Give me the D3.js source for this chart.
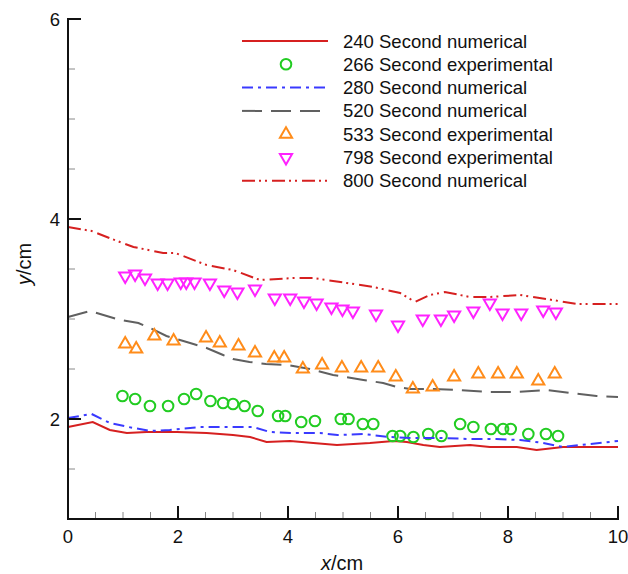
<!DOCTYPE html>
<html><head><meta charset="utf-8">
<script src="https://cdn.jsdelivr.net/npm/d3@7"></script>
<style>body{margin:0;background:#fff}svg{display:block;font-family:"Liberation Sans",Arial,sans-serif}</style>
</head><body><svg id="c" width="628" height="574"></svg>
<script>
// ---- data ----
const s240 = [[0,1.92],[0.45,1.97],[0.76,1.89],[1.07,1.86],[1.43,1.87],[1.98,1.87],[2.52,1.86],[3.0,1.84],[3.31,1.82],[3.61,1.77],[4.04,1.78],[4.46,1.76],[4.89,1.74],[5.49,1.76],[5.92,1.78],[6.16,1.77],[6.46,1.74],[6.76,1.72],[7.31,1.74],[7.67,1.72],[8.16,1.72],[8.52,1.69],[9.0,1.72],[10,1.72]];
const s266 = [[0.99,2.23],[1.22,2.20],[1.49,2.13],[1.82,2.13],[2.11,2.20],[2.33,2.25],[2.59,2.18],[2.82,2.16],[3.0,2.15],[3.21,2.13],[3.45,2.08],[3.82,2.03],[3.95,2.03],[4.24,1.97],[4.49,1.98],[4.96,2.0],[5.1,2.0],[5.36,1.95],[5.55,1.95],[5.90,1.83],[6.04,1.83],[6.28,1.82],[6.55,1.85],[6.79,1.83],[7.13,1.95],[7.37,1.92],[7.69,1.90],[7.91,1.90],[8.05,1.90],[8.37,1.85],[8.69,1.85],[8.91,1.83]];
const s280 = [[0,2.01],[0.43,2.05],[0.76,1.96],[1.1,1.92],[1.49,1.88],[1.85,1.89],[2.4,1.92],[2.88,1.92],[3.37,1.92],[3.67,1.87],[4.1,1.86],[4.58,1.86],[4.9,1.84],[5.37,1.85],[5.85,1.82],[6.28,1.81],[6.76,1.81],[7.31,1.80],[7.79,1.80],[8.22,1.79],[8.64,1.76],[9.0,1.72],[9.49,1.75],[10,1.78]];
const s520 = [[0,3.02],[0.4,3.08],[0.95,2.99],[1.28,2.96],[1.49,2.91],[1.79,2.83],[2.22,2.76],[2.52,2.71],[2.82,2.64],[3.0,2.60],[3.3,2.57],[3.6,2.55],[4.0,2.54],[4.4,2.50],[4.82,2.44],[5.37,2.39],[5.73,2.36],[5.98,2.32],[6.22,2.30],[6.64,2.30],[7.07,2.29],[7.67,2.27],[8.16,2.27],[8.70,2.29],[9.13,2.26],[9.61,2.23],[10,2.22]];
const s533 = [[1.04,2.75],[1.24,2.70],[1.57,2.83],[1.92,2.78],[2.51,2.81],[2.76,2.76],[3.10,2.73],[3.40,2.66],[3.75,2.61],[3.93,2.61],[4.27,2.50],[4.62,2.54],[4.98,2.51],[5.33,2.51],[5.64,2.51],[5.96,2.42],[6.27,2.30],[6.63,2.32],[7.02,2.42],[7.46,2.45],[7.82,2.45],[8.16,2.45],[8.55,2.38],[8.85,2.45]];
const s798 = [[1.04,3.43],[1.22,3.45],[1.40,3.41],[1.63,3.36],[1.81,3.36],[2.05,3.37],[2.15,3.37],[2.30,3.37],[2.58,3.36],[2.84,3.29],[3.08,3.27],[3.40,3.30],[3.76,3.21],[4.04,3.21],[4.29,3.18],[4.52,3.16],[4.79,3.12],[4.99,3.10],[5.18,3.08],[5.6,3.05],[6.0,2.94],[6.45,3.0],[6.78,3.0],[7.02,3.04],[7.37,3.08],[7.67,3.16],[7.9,3.06],[8.24,3.06],[8.64,3.09],[8.87,3.07]];
const s800 = [[0,3.92],[0.43,3.88],[0.8,3.80],[1.19,3.72],[1.73,3.66],[1.95,3.66],[2.52,3.54],[3.0,3.49],[3.49,3.39],[4.1,3.41],[4.46,3.41],[5.07,3.36],[5.55,3.32],[6.04,3.26],[6.31,3.17],[6.58,3.24],[6.85,3.27],[7.31,3.22],[7.67,3.22],[8.22,3.24],[8.70,3.20],[9.25,3.15],[10,3.15]];
const legendLabels = ["240 Second numerical","266 Second experimental","280 Second numerical","520 Second numerical","533 Second experimental","798 Second experimental","800 Second numerical"];
const xTicks = [0,2,4,6,8,10];
const yTicks = [2,4,6];

// ---- layout ----
const svg = d3.select("#c");
const x = d3.scaleLinear().domain([0,10]).range([68,618]);
const y = d3.scaleLinear().domain([1,6]).range([519,19]);
const black = "#111";

const series = [
  {type:"line", data:s240, color:"#d62020", dash:null},
  {type:"mark", data:s266, color:"#22cc22", sym:"circle"},
  {type:"line", data:s280, color:"#3a3aff", dash:"11,5,3,5"},
  {type:"line", data:s520, color:"#606060", dash:"20,9"},
  {type:"mark", data:s533, color:"#ff8c1a", sym:"up"},
  {type:"mark", data:s798, color:"#ff22ff", sym:"down"},
  {type:"line", data:s800, color:"#d62020", dash:"13,4,2,4,2,5"}
];

const line = d3.line().x(d=>x(d[0])).y(d=>y(d[1]));
const triPath = d3.symbol().type(d3.symbolTriangle).size(64)();

function drawMark(g, sym, color, cx, cy){
  if(sym==="circle"){
    g.append("circle").attr("cx",cx).attr("cy",cy).attr("r",5.3)
      .attr("fill","none").attr("stroke",color).attr("stroke-width",2);
  } else {
    g.append("path").attr("d",triPath)
      .attr("transform",`translate(${cx},${cy})`+(sym==="down"?" rotate(180)":""))
      .attr("fill","none").attr("stroke",color).attr("stroke-width",2).attr("stroke-linejoin","miter");
  }
}

const plot = svg.append("g");
series.forEach(s=>{
  if(s.type==="line"){
    plot.append("path").datum(s.data).attr("d",line)
      .attr("fill","none").attr("stroke",s.color).attr("stroke-width",2)
      .attr("stroke-dasharray",s.dash);
  } else {
    s.data.forEach(d=>drawMark(plot,s.sym,s.color,x(d[0]),y(d[1])));
  }
});

// ---- axes ----
const ax = svg.append("g");
const xMinor = d3.range(0.5,10,0.5).filter(v=>v%2!==0);
const yMinor = d3.range(1.5,6,0.5).filter(v=>v%2!==0);
ax.selectAll(".xm").data(xMinor).join("line")
  .attr("x1",d=>x(d)).attr("x2",d=>x(d)).attr("y1",y(1)).attr("y2",y(1)-7)
  .attr("stroke","#888").attr("stroke-width",1);
ax.selectAll(".ym").data(yMinor).join("line")
  .attr("x1",x(0)).attr("x2",x(0)+7).attr("y1",d=>y(d)).attr("y2",d=>y(d))
  .attr("stroke","#888").attr("stroke-width",1);
ax.selectAll(".xM").data(xTicks).join("line")
  .attr("x1",d=>x(d)).attr("x2",d=>x(d)).attr("y1",y(1)).attr("y2",y(1)-13)
  .attr("stroke",black).attr("stroke-width",2);
ax.selectAll(".yM").data(yTicks).join("line")
  .attr("x1",x(0)).attr("x2",x(0)+13).attr("y1",d=>y(d)).attr("y2",d=>y(d))
  .attr("stroke",black).attr("stroke-width",2);
ax.append("path").attr("d",`M${x(0)},${y(6)}V${y(1)}H${x(10)}`)
  .attr("fill","none").attr("stroke",black).attr("stroke-width",2).attr("stroke-linecap","square");

ax.selectAll(".xl").data(xTicks).join("text")
  .attr("x",d=>x(d)).attr("y",543).attr("text-anchor","middle")
  .attr("font-size",18.5).attr("fill",black).text(d=>d);
ax.selectAll(".yl").data(yTicks).join("text")
  .attr("x",60).attr("y",d=>y(d)+6.5).attr("text-anchor","end")
  .attr("font-size",18.5).attr("fill",black).text(d=>d);

const xt = svg.append("text").attr("x",342).attr("y",570).attr("text-anchor","middle")
  .attr("font-size",20).attr("fill",black);
xt.append("tspan").attr("font-style","italic").text("x");
xt.append("tspan").text("/cm");
const yt = svg.append("text").attr("transform","translate(31,264) rotate(-90)").attr("text-anchor","middle")
  .attr("font-size",20).attr("fill",black);
yt.append("tspan").attr("font-style","italic").text("y");
yt.append("tspan").text("/cm");

// ---- legend ----
const lg = svg.append("g");
series.forEach((s,i)=>{
  const cy = 41 + i*23.3;
  if(s.type==="line"){
    lg.append("line").attr("x1",242).attr("x2",328).attr("y1",cy).attr("y2",cy)
      .attr("stroke",s.color).attr("stroke-width",2).attr("stroke-dasharray",s.dash);
  } else {
    drawMark(lg,s.sym,s.color,286,cy);
  }
  lg.append("text").attr("x",343).attr("y",cy+6.5).attr("font-size",18.5)
    .attr("fill",black).text(legendLabels[i]);
});
</script></body></html>
